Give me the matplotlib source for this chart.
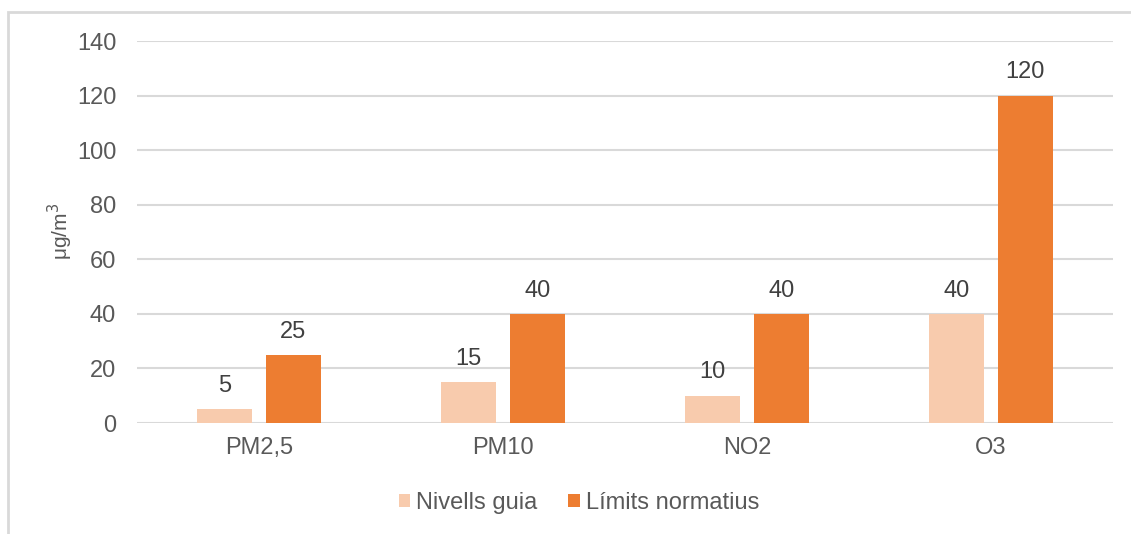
import matplotlib.pyplot as plt
import numpy as np
from matplotlib.patches import Rectangle

categories = ["PM2,5", "PM10", "NO2", "O3"]
nivells_guia = [5, 15, 10, 40]
limits_normatius = [25, 40, 40, 120]
series_names = ["Nivells guia", "Límits normatius"]
yticks = [0, 20, 40, 60, 80, 100, 120, 140]

c_light = "#F8CBAD"
c_dark = "#ED7D31"
txt = "#595959"
grid_c = "#D9D9D9"

plt.rcParams['font.family'] = ['Liberation Sans', 'DejaVu Sans']

W, H = 1131, 534
fig = plt.figure(figsize=(W / 100, H / 100), dpi=100)
ax = fig.add_axes([137 / W, 1 - 423 / H, (1113 - 137) / W, (423 - 41) / H])

# outer frame (top and left edges visible)
fig.patches.append(Rectangle((8 / W, -0.1), 1.2, 1 - 12 / H + 0.1, transform=fig.transFigure,
                             fill=False, edgecolor="#D9D9D9", linewidth=2))

x = np.arange(len(categories))
w = 0.226
off = 0.141
b1 = ax.bar(x - off, nivells_guia, w, color=c_light, label=series_names[0], zorder=3)
b2 = ax.bar(x + off, limits_normatius, w, color=c_dark, label=series_names[1], zorder=3)

for bars, vals in ((b1, nivells_guia), (b2, limits_normatius)):
    for r, v in zip(bars, vals):
        ax.text(r.get_x() + r.get_width() / 2, v + 4.5, str(v), ha="center", va="bottom",
                fontsize=17, color="#404040")

ax.set_xlim(-0.5, len(categories) - 0.5)
ax.set_ylim(0, 140)
ax.set_yticks(yticks)
ax.set_xticks(x)
ax.set_xticklabels(categories)
ax.tick_params(axis="both", length=0, labelsize=17, colors=txt)
ax.tick_params(axis="y", pad=15)
ax.tick_params(axis="x", pad=10)
ax.grid(axis="y", color=grid_c, linewidth=1.5, zorder=0)
for s in ax.spines.values():
    s.set_visible(False)

fig.text(60 / W, 1 - 231 / H, "μg/m$^3$", rotation=90, ha="center", va="center",
         fontsize=15, color=txt)

leg = fig.legend(loc="center", bbox_to_anchor=(579 / W, 1 - 503 / H), ncol=2, frameon=False,
                 fontsize=17, handlelength=0.5, handleheight=0.5, handletextpad=0.25,
                 columnspacing=1.3, labelcolor=txt)

fig.savefig("out.png", dpi=100, facecolor="white")
